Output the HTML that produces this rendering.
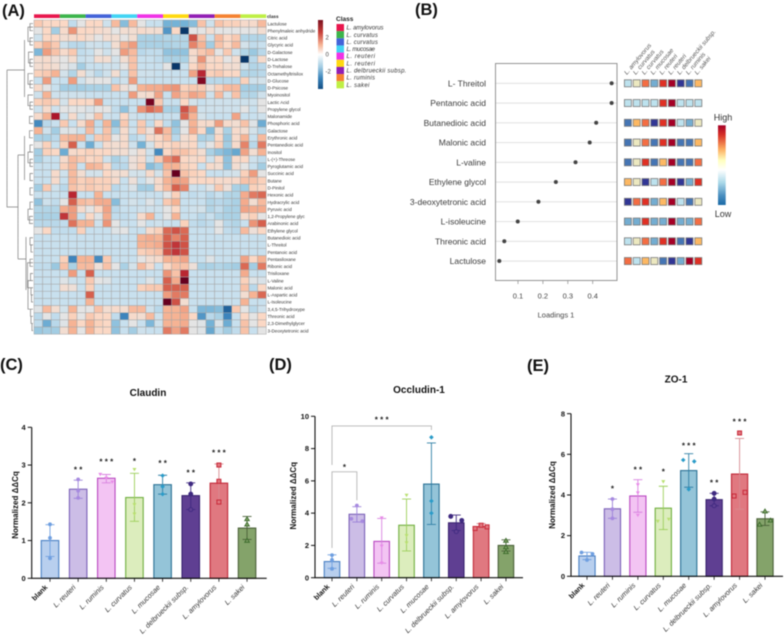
<!DOCTYPE html>
<html lang="en">
<head>
<meta charset="utf-8">
<title>Metabolite heatmap, loadings and gene expression panels</title>
<style>
html,body{margin:0;padding:0;background:#fff;}
body{width:784px;height:642px;overflow:hidden;}
#figure{display:block;filter:blur(0.4px);font-family:"Liberation Sans",sans-serif;}
</style>
</head>
<body>
<svg id="figure" xmlns="http://www.w3.org/2000/svg" width="784" height="642" viewBox="0 0 784 642">
  <rect width="784" height="642" fill="#fff"/>
  <g font-size="16.5" font-weight="bold" fill="#111">
    <text x="2" y="16">(A)</text>
    <text x="415" y="15">(B)</text>
    <text x="0" y="370">(C)</text>
    <text x="269" y="370">(D)</text>
    <text x="527" y="371">(E)</text>
  </g>
  <g id="heatmap"></g>
  <g id="lollipop"></g>
  <g id="barC"></g>
  <g id="barD"></g>
  <g id="barE"></g>
</svg>
<script>
/* ---------- Panel A data ---------- */
const heatRowLabels = ["Lactulose","Phenylmaleic anhydride","Citric acid","Glycyric acid","D-Galactose","D-Lactose","D-Trehalose","Octamethyltrisilox","D-Glucose","D-Psicose","Myoinositol","Lactic Acid","Propylene glycol","Malonamide","Phosphoric acid","Galactose","Erythronic acid","Pentanedioic acid","Inositol","L-(+)-Threose","Pyroglutamic acid","Succinic acid","Butane","D-Pinitol","Hexonic acid","Hydracrylic acid","Pyruvic acid","1,2-Propylene glyc","Arabinonic acid","Ethylene glycol","Butanedioic acid","L-Threitol","Pentanoic acid","Pentasiloxane","Ribonic acid","Trisiloxane","L-Valine","Malonic acid","L-Aspartic acid","L-Isoleucine","3,4,5-Trihydroxype","Threonic acid","2,3-Dimethylglycer","3-Deoxytetronic acid"];
const heatClassNames = ["L. amylovorus","L. curvatus","L. curvatus","L. mucosae","L. reuteri","L. reuteri","L. delbrueckii subsp.","L. ruminis","L. sakei"];
const heatClassColors = ["#e8174d","#3cb44b","#4363d8","#42d4f4","#f032e6","#ffd90f","#911eb4","#f58231","#bfef45"];
const heatValues = [
[.7,.5,.5,.5,-.6,0,.5,.5,-.4,.9,-1.3,.9,0,-.5,-.5,-1.5,-1.5,-1.5,-1.3,.8,-.4,.8,.6,.6,.4,.4,.9],
[0,.5,-1,.4,1.4,.5,.5,.4,.3,0,.3,.3,.4,.3,.3,-2,.5,-3.4,0,0,.3,0,0,0,0,0,.3],
[-.4,.5,.5,.3,.4,.5,.3,0,.3,.3,0,.3,-.9,-.9,-.9,-.8,-.8,-.8,2.1,.8,-.5,.9,.5,.7,-.8,-.8,-.8],
[.6,1,.7,-.4,-.7,-.7,-.4,-.4,-.5,.3,1,1.3,-.9,-.9,-.9,-.9,-.8,-.8,1.6,1,-1,.8,.5,.9,-.3,-.6,-.5],
[-1.4,1.3,.8,.4,.7,-.6,-.5,0,-.4,0,1.3,.9,-.7,-.6,-.6,-1.2,-1.2,-1.2,.4,.7,.9,0,.7,-.4,-.8,-1.1,-.7],
[.3,.4,.2,0,.3,-.5,-.4,.3,.3,-.3,.3,.8,-.5,-.5,-.6,-.9,-.9,-.9,.3,1.4,.4,.5,0,.3,-3.4,-.7,.4],
[.3,.4,.3,0,-.2,-1,-.5,-.5,-.4,-.4,0,.8,-.5,-.5,-.5,0,-3.4,-.5,.5,.9,.5,.5,.3,.3,-.4,-.8,-.7],
[.6,.7,1,-.3,-.8,.3,-.3,-.7,-.4,.3,-.5,.8,-.4,-.4,-.5,-.5,-.5,-.5,1.2,2.4,.6,.7,.5,.5,-.8,-.8,-.7],
[-.5,1.3,-.5,-.5,1.3,-.4,0,0,0,-.6,-.4,1.3,-.5,-.5,-.5,-.5,-.5,-.5,-.5,3.2,-.7,-.7,-.7,-.7,.6,-.4,-.3],
[.4,0,-.5,-1,-1,-1,-.9,-.9,-.9,.8,.2,0,1,1.1,1.1,1.3,1.4,.6,.7,.7,.2,.6,.9,.9,-1,-1,-1],
[-.4,1,-.4,-.4,-.4,-.4,-.5,-.5,-.5,-.5,-.5,1.3,.3,.4,1.2,-.5,1.2,.8,1.2,1,-.4,.9,-.3,.8,-.8,-.8,-.4],
[.6,.7,.6,-.3,.5,.5,.5,1.3,-.5,-.5,-.5,-.5,-.5,3.4,.7,-.5,-.5,.5,-.3,-.5,-.4,-.4,-.4,-.4,-.4,-.4,0],
[-.4,.4,-.4,0,0,0,-.2,0,0,-.6,-1.2,-.5,1.4,1.9,1.6,-.9,-.9,2.1,1.4,-.4,-.4,-.4,-.4,-.4,0,-.5,0],
[.4,1,2.6,-.4,.4,-.3,0,.8,-.4,-.5,.5,-.4,-.5,-.5,-.5,-.5,-.5,1.9,1,-.3,-.5,-.5,-.5,1.2,-.5,-.5,-.4],
[-2.2,-.7,-.5,.7,-.5,.4,1.1,-.6,1,-1.3,.7,-.5,.7,-.6,.5,-.6,-1.2,0,1,.4,.4,1.3,.4,.3,.8,-.1,-1.6],
[1,-.4,-1,-.1,-.1,-.4,.9,-.5,.8,-.8,.4,-.4,.7,.2,1.8,.9,-1,0,1.1,.5,-1.3,.3,-.9,.4,.3,-.3,-.7],
[-.9,-.9,-.7,.9,1,1,-.6,.7,.8,0,.4,-.7,-.5,.4,.5,.8,-.7,.3,.5,-.9,-.8,.5,-1.1,.4,1,-.5,.9],
[0,.6,-.5,.6,2,-.5,-1.6,-.5,.4,.3,.4,-.4,-1.5,-.3,.5,.5,.6,.4,.5,-.5,0,.6,-1,.4,1.6,-.7,1.7],
[-1,.6,.5,-1.6,.4,.5,.6,.5,.5,.3,.3,0,.3,-.4,-2.2,.5,.8,.8,.6,.3,-.9,-1.2,-1.4,-1.7,1.2,.3,1],
[-.9,-.5,-.5,.4,.9,.7,.5,.6,-.4,-.9,-.6,.2,.4,-.5,.7,1.5,1.9,.5,.4,.5,-.4,.4,-1.2,.4,.5,-.4,-.6],
[-.5,-.5,-.5,.6,.9,-.5,1,.9,.5,-.7,-.7,.2,.6,-1.3,-1,1,1,.6,.5,-.5,.4,.3,-1.2,.3,0,-.5,-1],
[-.5,-.5,.4,-.4,.9,.3,-.3,-.3,.5,.3,.3,-.3,-.3,.4,-.3,.8,3.6,.8,.6,.5,-.5,-.5,-.4,-.3,.6,1.3,0],
[-.5,-.5,.4,-.5,.9,.6,.7,.6,.6,.4,-.5,.2,-.5,0,.4,1,1.3,1.2,.5,.5,.5,.4,.4,.4,.8,.8,.6],
[-1,.7,-.4,-.7,.8,.6,.7,.6,.6,-.7,-.5,-.2,-1,-1,.4,.9,2,1.6,-.4,-.5,-.1,.7,.2,-.9,-1,.6,.5],
[-.5,-.5,-.5,-.5,2.4,-.5,-.5,1,-.5,-.5,-.5,-.5,-.5,-.5,-.5,0,.6,-.5,-.6,-.5,-.7,-.5,-.8,-.8,1.1,1.7,1.9],
[-1.2,-.4,-.6,0,2,.9,.8,1.1,1.1,-1.3,-.5,-.3,-.5,-.1,-.5,.7,1,-.5,-.5,-.5,-.8,-.7,-.8,-.9,1.1,.3,.9],
[-.8,-.8,-.8,1.1,1.3,.4,0,.5,1.2,-.7,-.5,-.5,-.4,-.4,-.4,0,.5,-.5,-.4,-.3,-.8,-.6,-.9,-.9,1.2,1.1,1.1],
[-.9,-.9,-.9,2.3,1.3,-.5,.5,-.1,1.1,-.6,-.6,-.5,.4,1,-.5,0,1,-.5,-.5,-.7,-.5,-.8,-.9,-.9,.4,.6,0],
[-.7,-.7,-.7,-.6,1.8,1,1,-.4,1.4,0,-.5,-.5,0,-.5,-.4,-.5,-.5,.6,-.6,-.7,-.6,0,-.7,-.8,-.5,1.4,2],
[0,.5,-.6,-.6,-.6,.6,-.5,-.5,-.5,-.1,0,-.5,-.5,.4,.6,1.9,2.1,1.9,-.5,-.5,-.5,0,-.6,-.7,.9,.2,.5],
[-.5,-.5,-.5,-.5,-.5,-.5,-.5,-.5,-.5,-.5,-.5,-.5,1,1.1,1,2,1.6,2,-.5,-.5,-.5,-.5,-.5,-.5,-.5,-.5,-.5],
[-.5,-.5,-.5,-.5,-.5,-.5,-.5,-.5,-.5,-.5,-.5,-.5,1,1,1.1,2.1,2.3,2.1,-.5,-.5,-.5,-.5,-.5,-.5,-.5,-.5,-.5],
[-.5,-.5,-.5,-.5,-.5,-.5,-.5,-.5,-.5,-.5,-.5,-.5,.6,.7,.8,2.1,2.3,2.1,-.5,-.5,-.5,-.5,-.5,-.5,-.5,-.5,-.5],
[-.5,-.5,-.5,.6,-2.3,1,1,-2.2,.7,-.5,-.5,-.5,0,.3,.4,1,1,1.2,-.5,-.5,-.1,-.5,-.5,-.5,1.2,.5,1],
[-.6,-.6,-1.1,.8,-.9,.9,.9,.2,.8,0,-.9,-.3,.9,.4,-.5,.5,.8,.8,.2,-.9,-.9,-.8,-.9,-1,1.9,-1,1.7],
[-.5,-.5,-.5,-.5,1.3,-.5,2,-.5,-.5,-.5,-.5,-.5,-.5,-.5,-.5,1.4,.8,2.4,-.5,-.5,-.5,-.5,-.5,-.5,1.1,-.5,-.5],
[-.5,-.5,-.5,-.1,-.4,-.5,.7,0,-.1,-.5,-.5,-.5,-.5,-.1,-.5,2,1.1,3.6,-.5,-.5,-.5,-.5,-.5,-.5,.6,-.1,-.2],
[-.5,-.5,-.5,.3,.2,-.5,.6,-.5,-.5,-.5,-.5,-.5,.6,.7,.7,2,2,2,-.5,-.5,-.5,-.5,-.5,-.5,.8,-.7,.5],
[-.5,-.5,-.5,-.5,-.5,-.5,2,-.5,-.5,-.5,-.5,-.5,-.5,-.5,-.5,1.3,1.7,1.7,-.5,-.5,-.5,-.5,-.5,-.5,.3,1,1.9],
[-.5,-.5,-.5,-.5,-.5,-.5,1,-.5,-.5,-.5,-.5,-.5,-.5,-.5,-.5,3.6,2.1,.3,-.5,-.5,-.5,-.5,-.5,-.5,1,-.5,-.5],
[-.1,.9,.3,-.3,1,0,0,.8,.3,.4,.3,.9,.9,-.4,-.7,1,1,1.2,-.5,-1.4,-1.4,-1.3,-2.8,.7,0,-.7,-.4],
[-.7,0,-.6,0,.6,0,.7,.5,.5,-.6,-2.3,.4,.3,.9,-.4,1,1,1.1,.5,-2,-.7,-.9,-2.3,-.5,.5,0,.5],
[-.6,-1.6,-.7,-.1,1,.5,1,.6,.5,-1.2,-.5,0,-.5,-1.4,-.4,1,1,1.1,0,-.1,-1.5,-.2,-1.6,-.5,.8,0,.5],
[-1.1,-1,-1,.3,1,0,1,.5,.5,-1.2,-.5,-1,-.4,-.5,-.5,1.7,1.2,1.7,0,-.1,-1.7,-.6,-1,-.6,.8,-.5,0]
];
const heatScaleTicks = [2, 0, -2];

/* ---------- Panel B data ---------- */
const loadingNames = ["L- Threitol","Pentanoic acid","Butanedioic acid","Malonic acid","L-valine","Ethylene glycol","3-deoxytetronic acid","L-isoleucine","Threonic acid","Lactulose"];
const loadingValues = [0.476,0.476,0.414,0.388,0.331,0.252,0.182,0.099,0.045,0.025];
const loadingTicks = [0.1,0.2,0.3,0.4];
const loadingLevels = [
[4,5,7,3,8,9,1,2,6],[4,4,4,4,8,9,4,4,4],[2,6,7,1,8,9,4,3,5],[2,5,7,2,8,9,2,2,6],[2,5,8,2,6,9,2,2,7],
[6,5,1,4,7,9,1,3,8],[1,7,8,3,6,9,4,2,5],[3,3,8,3,3,9,3,3,7],[4,5,7,3,8,9,2,1,6],[7,4,6,5,2,1,3,9,8]
];

/* ---------- Panels C, D, E data ---------- */
const barCategories = ["blank","L. reuteri","L. ruminis","L. curvatus","L. mucosae","L. delbrueckii subsp.","L. amylovorus","L. sakei"];

const claudinMeans = [1.0,2.36,2.65,2.14,2.48,2.19,2.52,1.33];
const claudinErrHigh = [1.42,2.6,2.75,2.78,2.73,2.53,3.03,1.64];
const claudinErrLow = [.58,2.12,2.53,1.51,2.23,1.82,2.02,1.03];
const claudinPoints = [[1.43,1.07,.53],[2.62,2.32,2.13],[2.75,2.65,2.55],[2.88,1.95,1.7],[2.72,2.43,2.23],[2.5,2.23,1.82],[3.0,2.57,2.02],[1.57,1.43,1.0]];
const claudinStars = [0,2,3,1,2,2,3,0];
const claudinStarLevels = [0,2.92,3.13,3.15,3.1,2.84,3.37,0];
const claudinTicks = [0,1,2,3,4];

const occludinMeans = [1.0,3.93,2.25,3.25,5.8,3.4,3.17,2.0];
const occludinErrHigh = [1.42,4.4,3.67,4.87,8.35,3.88,3.35,2.35];
const occludinErrLow = [.58,3.45,.9,1.66,3.3,2.92,3.0,1.65];
const occludinPoints = [[1.4,1.1,.55],[4.47,3.65,3.5],[3.7,1.95,.9],[5.1,2.6,2.15],[8.7,4.75,4.0],[3.8,3.55,2.85],[3.05,3.25,3.15],[2.3,1.9,1.6]];
const occludinStars = [0,0,0,0,0,0,0,0];
const occludinStarLevels = [0,0,0,0,0,0,0,0];
const occludinTicks = [0,2,4,6,8,10];

const zo1Means = [1.0,3.32,3.95,3.35,5.2,3.77,5.03,2.83];
const zo1ErrHigh = [1.18,3.8,4.75,4.43,6.03,4.08,6.78,3.17];
const zo1ErrLow = [.82,2.85,3.15,2.3,4.38,3.47,3.3,2.5];
const zo1Points = [[1.17,1.1,.8],[3.8,3.3,2.85],[4.5,4.1,3.0],[4.65,2.7,2.8],[5.72,5.65,4.28],[4.08,3.8,3.47],[7.05,3.95,4.13],[3.2,2.55,2.75]];
const zo1Stars = [0,1,2,1,3,2,3,0];
const zo1StarLevels = [0,4.39,5.32,5.22,6.5,4.68,7.68,0];
const zo1Ticks = [0,2,4,6,8];

/* ---------- helpers ---------- */
const SVGNS = 'http://www.w3.org/2000/svg';
function mk(parent, tag, attrs, txt){
  const el = document.createElementNS(SVGNS, tag);
  for (const k in attrs) el.setAttribute(k, attrs[k]);
  if (txt !== undefined) el.textContent = txt;
  parent.appendChild(el);
  return el;
}
function lerpColor(stops, v){
  if (v <= stops[0][0]) return stops[0][1];
  for (let i = 1; i < stops.length; i++){
    if (v <= stops[i][0]){
      const [a, ca] = stops[i-1], [b, cb] = stops[i];
      const t = (v-a)/(b-a);
      const p = s => [1,3,5].map(o => parseInt(s.substr(o,2),16));
      const A = p(ca), B = p(cb);
      return 'rgb(' + A.map((x,j) => Math.round(x+(B[j]-x)*t)).join(',') + ')';
    }
  }
  return stops[stops.length-1][1];
}

/* ---------- Panel A ---------- */
(function(){
  const g = document.getElementById('heatmap');
  const stops = [[-3.5,'#053061'],[-2.5,'#2f79b5'],[-1.5,'#74b2d6'],[-1,'#a3cde3'],[-.5,'#c8e0ee'],[0,'#e4e4e4'],[.5,'#fbd8c5'],[1,'#f6b394'],[1.5,'#ea8c70'],[2,'#d6604d'],[2.5,'#b2182b'],[3.6,'#67001f']];
  const x0 = 34, y0 = 20, cw = 8.6, ch = 7.14;
  const colX = i => x0 + i*cw;
  const rowY = i => y0 + i*ch;

  heatClassColors.forEach((c,i) => {
    const r = mk(g,'rect',{x:colX(i*3),y:14.3,width:cw*3,height:3.7,fill:c});
    
    
  });
  const classLbl = mk(g,'text',{x:267,y:18,'font-size':4.6,'font-weight':'bold',fill:'#222'},'class');
  
  

  heatValues.forEach((row,ri) => {
    row.forEach((v,ci) => {
      const r = mk(g,'rect',{x:colX(ci),y:rowY(ri),width:cw,height:ch,fill:lerpColor(stops,v),stroke:'#a6a6a6','stroke-width':.5});
      
      
    });
    const t = mk(g,'text',{x:267.5,y:rowY(ri)+ch/2+1.7,'font-size':4.5,fill:'#333'},heatRowLabels[ri]);
    
    
  });

  /* dendrogram */
  const brackets = [[0,1,30],[2,3,30],[5,6,30],[.5,2.5,28],[4,5.5,28.5],[8,9,30],[11,12,30],[13,14,29.5],[7,8.5,28],[10,11.5,28],[15,16,29.5],[17,18,30],[19,20,30],[18,19.5,28],[21,22,30],[23,24,30],[25,26,30],[27,28,29.5],[26,27.5,28],[30,31,30],[31,32,31],[33,34,30],[35,36,30.5],[37,38,31],[38,39,31.5],[40,41,30.5],[41,42,31],[42,43,32],[36,40,28],[33.5,37,27.5]];
  let d = 'M7 70V207H18M7 70H24.5M18 155V259M18 155H24.5M18 259H26M24.5 40V97M24.5 136V180M26 237V290';
  brackets.forEach(b => {
    const a = rowY(b[0])+ch/2, c = rowY(b[1])+ch/2;
    d += 'M33 '+a+'H'+b[2]+'V'+c+'H33';
  });
  const den = mk(g,'path',{d:d,fill:'none',stroke:'#7d7d7d','stroke-width':.7});
  
  

  /* colour bar */
  const defs = mk(g,'defs',{});
  const lg = mk(defs,'linearGradient',{id:'heatBar',x1:0,y1:0,x2:0,y2:1});
  [['0','#7a1020'],['.18','#c8413a'],['.36','#f6b394'],['.5','#ffffff'],['.68','#a3cde3'],['.84','#3b84bb'],['1','#134f85']].forEach(s => mk(lg,'stop',{offset:s[0],'stop-color':s[1]}));
  const bar = mk(g,'rect',{x:318,y:20,width:5,height:69,fill:'url(#heatBar)'});
  
  
  heatScaleTicks.forEach(v => {
    const t = mk(g,'text',{x:325.5,y:54.5-v*8.5+2.2,'font-size':6,fill:'#444'},String(v));
    
    
  });

  /* legend */
  const lt = mk(g,'text',{x:336,y:21,'font-size':6.5,'font-weight':'bold',fill:'#222'},'Class');
  
  
  heatClassNames.forEach((n,i) => {
    const s = mk(g,'rect',{x:336.5,y:24+i*7.15,width:7.5,height:7.15,fill:heatClassColors[i]});
    
    
    const t = mk(g,'text',{x:346.5,y:24+i*7.15+5.6,'font-size':6,'font-style':'italic',fill:'#333',textLength:n.length*2.85,lengthAdjust:'spacing'},n);
    
    
  });
})();

/* ---------- Panel B ---------- */
(function(){
  const g = document.getElementById('lollipop');
  const xs = v => 518 + (v-0.1)*249;
  const ys = i => 83.3 + i*19.75;
  const tileColors = [null,'#313695','#4575b4','#74add1','#bde2ee','#ece8c0','#fdb863','#f46d43','#e03024','#a50026'];
  const tileX = i => 624.4 + i*8.8;

  loadingNames.forEach((name,i) => {
    const ln = mk(g,'line',{x1:495.5,x2:617,y1:ys(i),y2:ys(i),stroke:'#e4e4e4','stroke-width':1.2});
    
    
    const p = mk(g,'circle',{cx:xs(loadingValues[i]),cy:ys(i),r:2,fill:'#444'});
    
    
    const t = mk(g,'text',{x:486,y:ys(i)+3,'text-anchor':'end','font-size':8.5,fill:'#3c3c3c'},name);
    
    
    loadingLevels[i].forEach((lv,j) => {
      const r = mk(g,'rect',{x:tileX(j),y:ys(i)-3.5,width:7,height:7,fill:tileColors[lv],stroke:'#7a7a7a','stroke-width':.8});
      
      
    });
  });
  const box = mk(g,'rect',{x:495.5,y:63.5,width:121.5,height:217,fill:'none',stroke:'#8a8a8a','stroke-width':.9});
  
  
  loadingTicks.forEach(v => {
    const tk = mk(g,'line',{x1:xs(v),x2:xs(v),y1:280.5,y2:284,stroke:'#8a8a8a','stroke-width':.7});
    
    
    const t = mk(g,'text',{x:xs(v),y:298.5,'text-anchor':'middle','font-size':7.5,fill:'#444'},v.toFixed(1));
    
    
  });
  const xt = mk(g,'text',{x:556,y:317.5,'text-anchor':'middle','font-size':7.5,fill:'#444'},'Loadings 1');
  
  

  heatClassNames.forEach((n,j) => {
    const x = tileX(j)+2.5, y = 75;
    const t = mk(g,'text',{x:x,y:y,'font-size':6.2,'font-style':'italic',fill:'#555',transform:'rotate(-50 '+x+' '+y+')'},n);
    
    
  });

  const defs = mk(g,'defs',{});
  const lg = mk(defs,'linearGradient',{id:'loadBar',x1:0,y1:0,x2:0,y2:1});
  [['0','#a50026'],['.12','#d73027'],['.3','#fdae61'],['.44','#ffffbf'],['.56','#ffffff'],['.72','#abd9e9'],['.88','#4b8fc0'],['1','#1a6aa6']].forEach(s => mk(lg,'stop',{offset:s[0],'stop-color':s[1]}));
  const bar = mk(g,'rect',{x:718,y:125.3,width:7.7,height:79.7,fill:'url(#loadBar)'});
  
  
  const hi = mk(g,'text',{x:723,y:120.5,'text-anchor':'middle','font-size':9,fill:'#333'},'High');
  
  
  const lo = mk(g,'text',{x:723,y:217,'text-anchor':'middle','font-size':9,fill:'#333'},'Low');
  
  
})();

/* ---------- Panels C, D, E ---------- */
const barFill = ['#b8cfee','#ccbde6','#f3c4f3','#dcedbd','#94c4d8','#5f3f92','#e07880','#84a36a'];
const barStroke = ['#4a80c4','#7b60b8','#b848c0','#6fae3e','#2a7195','#3a2470','#c02838','#4a6038'];
const dotColor = ['#6f9fe0','#a78ae0','#e88be8','#b9e070','#2a9bc8','#3f2a80','#c82838','#3a6a2a'];
const errColor = ['#6f9fe0','#9a80d8','#d880e0','#9ccf5a','#2f7fa5','#3f2a80','#d88a90','#4a6038'];

function drawMarker(g, kind, idx, px, py, color){
  let el;
  const openFill = barFill[kind];
  if (kind === 0 || kind === 1){
    el = mk(g,'circle',{cx:px,cy:py,r:1.9,fill:color});
  } else if (kind === 2 || kind === 3){
    el = mk(g,'path',{d:'M'+(px-2)+' '+(py-1.6)+'h4l-2 3.4z',fill:color});
  } else if (kind === 4){
    el = mk(g,'path',{d:'M'+px+' '+(py-2.3)+'l2.3 2.3l-2.3 2.3l-2.3-2.3z',fill:color});
  } else if (kind === 5){
    el = mk(g,'circle',{cx:px,cy:py,r:2,fill:idx===2?openFill:color,stroke:color,'stroke-width':.9});
  } else if (kind === 6){
    el = mk(g,'rect',{x:px-2,y:py-2,width:4,height:4,fill:openFill,stroke:color,'stroke-width':1});
  } else {
    el = mk(g,'path',{d:'M'+px+' '+(py-2.2)+'l2.3 3.9h-4.6z',fill:openFill,stroke:color,'stroke-width':.9});
  }
  
  
}

function drawBars(cfg){
  const g = document.getElementById(cfg.id);
  const ys = v => cfg.y0 - v*cfg.unit;
  const xs = i => cfg.x0 + i*cfg.step;

  cfg.means.forEach((m,i) => {
    const b = mk(g,'rect',{x:xs(i)-cfg.bw/2,y:ys(m),width:cfg.bw,height:cfg.y0-ys(m),fill:barFill[i],stroke:barStroke[i],'stroke-width':1.1});
    
    

    const hi = ys(cfg.high[i]), lo = ys(cfg.low[i]), xc = xs(i);
    const err = mk(g,'path',{d:'M'+xc+' '+hi+'V'+lo+'M'+(xc-4.5)+' '+hi+'h9M'+(xc-4.5)+' '+lo+'h9',fill:'none',stroke:errColor[i],'stroke-width':.9});
    
    

    /* swarm: spread markers that would overlap */
    const pts = cfg.points[i], off = pts.map(() => 0);
    let s = 0;
    while (s < pts.length){
      let e = s;
      while (e+1 < pts.length && Math.abs(pts[e+1]-pts[e])*cfg.unit < 4.5) e++;
      const n = e-s+1;
      if (n === 2){ off[s] = -5.5; off[e] = 5.5; }
      if (n === 3){ off[s] = -6; off[s+1] = 0; off[e] = 6; }
      s = e+1;
    }
    pts.forEach((p,j) => drawMarker(g,i,j,xc+off[j],ys(p),dotColor[i]));

    if (cfg.stars[i] > 0){
      const st = mk(g,'text',{x:xc,y:ys(cfg.starLevels[i])+4.5,'text-anchor':'middle','font-size':8,'font-weight':'bold',fill:'#222'},Array(cfg.stars[i]).fill('*').join(' '));
      
      
    }

    const lx = xc-2, ly = cfg.y0+9.5;
    const lab = mk(g,'text',{x:lx,y:ly,'text-anchor':'end','font-size':7.2,transform:'rotate(-45 '+lx+' '+ly+')',fill:i===0?'#111':'#333','font-weight':i===0?'bold':'normal','font-style':i===0?'normal':'italic'},barCategories[i]);
    
    
    const tk = mk(g,'line',{x1:xc,x2:xc,y1:cfg.y0,y2:cfg.y0+3.5,stroke:'#111','stroke-width':.8});
    
    
  });

  const axis = mk(g,'path',{d:'M'+cfg.axisX+' '+ys(cfg.ticks[cfg.ticks.length-1])+'V'+cfg.y0+'H'+cfg.xEnd,fill:'none',stroke:'#111','stroke-width':1.1});
  
  
  cfg.ticks.forEach(v => {
    const tk = mk(g,'line',{x1:cfg.axisX-4,x2:cfg.axisX,y1:ys(v),y2:ys(v),stroke:'#111','stroke-width':1});
    
    
    const t = mk(g,'text',{x:cfg.axisX-6,y:ys(v)+2.6,'text-anchor':'end','font-size':7.5,'font-weight':'bold',fill:'#111'},String(v));
    
    
  });
  const yt = mk(g,'text',{x:cfg.titleX,y:cfg.titleY,'text-anchor':'middle','font-size':8,'font-weight':'bold',fill:'#111',transform:'rotate(-90 '+cfg.titleX+' '+cfg.titleY+')'},'Normalized \u0394\u0394Cq');
  
  
  const ct = mk(g,'text',{x:cfg.chartTitleX,y:cfg.chartTitleY,'text-anchor':'middle','font-size':10,'font-weight':'bold',fill:'#111'},cfg.title);
  
  

  (cfg.brackets||[]).forEach(b => {
    const br = mk(g,'path',{d:'M'+xs(b.from)+' '+ys(b.leftEnd)+'V'+ys(b.top)+'H'+xs(b.to)+'V'+ys(b.rightEnd),fill:'none',stroke:'#b5b5b5','stroke-width':.9});
    
    
    const st = mk(g,'text',{x:(xs(b.from)+xs(b.to))/2,y:ys(b.label)+4.5,'text-anchor':'middle','font-size':8,'font-weight':'bold',fill:'#222'},b.stars);
    
    
  });
}

drawBars({id:'barC',title:'Claudin',chartTitleX:148,chartTitleY:396,means:claudinMeans,high:claudinErrHigh,low:claudinErrLow,points:claudinPoints,stars:claudinStars,starLevels:claudinStarLevels,ticks:claudinTicks,x0:50,step:28.15,bw:17.5,y0:578.3,unit:37.75,axisX:31.7,xEnd:266.7,titleX:18,titleY:505});
drawBars({id:'barD',title:'Occludin-1',chartTitleX:419,chartTitleY:393,means:occludinMeans,high:occludinErrHigh,low:occludinErrLow,points:occludinPoints,stars:occludinStars,starLevels:occludinStarLevels,ticks:occludinTicks,x0:332,step:24.85,bw:15.5,y0:577.7,unit:16.14,axisX:315,xEnd:523,titleX:296,titleY:495.7,
  brackets:[{from:0,to:4,top:9.4,leftEnd:6.98,rightEnd:9.15,label:9.9,stars:'* * *'},{from:0,to:1,top:6.56,leftEnd:1.84,rightEnd:4.8,label:6.94,stars:'*'}]});
drawBars({id:'barE',title:'ZO-1',chartTitleX:676,chartTitleY:382.5,means:zo1Means,high:zo1ErrHigh,low:zo1ErrLow,points:zo1Points,stars:zo1Stars,starLevels:zo1StarLevels,ticks:zo1Ticks,x0:587,step:25.43,bw:16.2,y0:576.3,unit:20.33,axisX:571,xEnd:783,titleX:555,titleY:495});
</script>
</body>
</html>
